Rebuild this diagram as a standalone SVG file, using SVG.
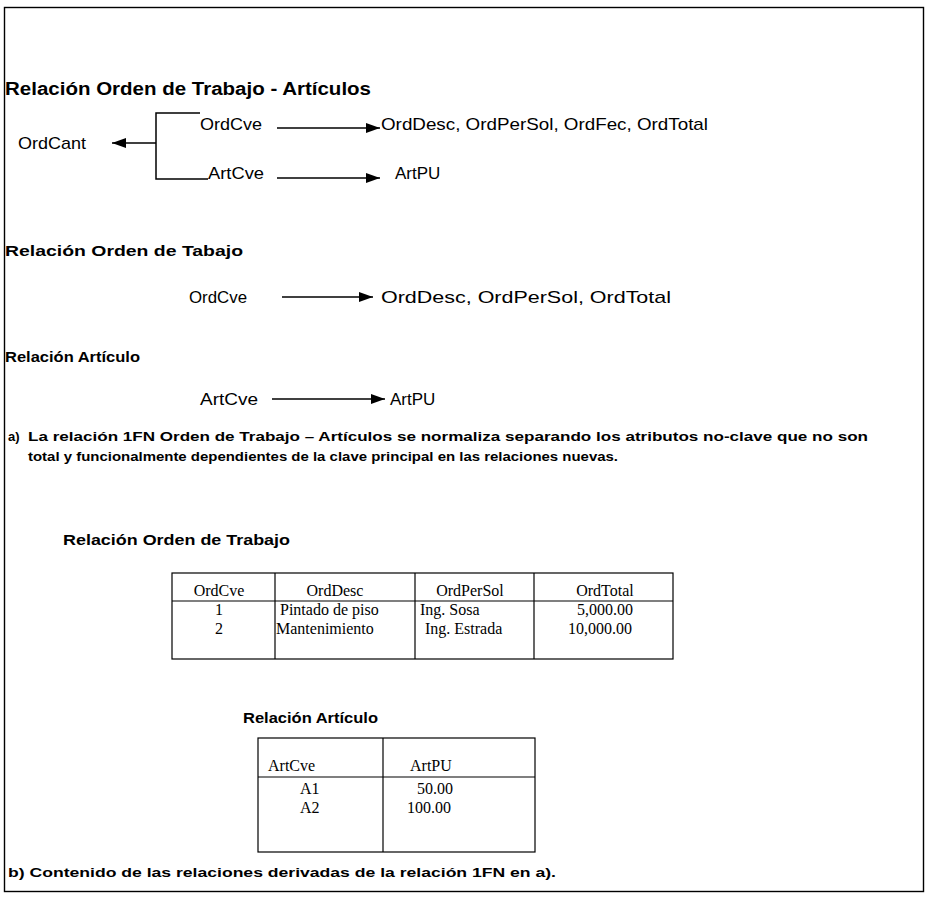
<svg xmlns="http://www.w3.org/2000/svg" width="933" height="899" viewBox="0 0 933 899">
  <style>
    .sans { font-family: "Liberation Sans", Arial, sans-serif; fill: #000; }
    .head { font-family: "Liberation Sans", Arial, sans-serif; font-weight: bold; fill: #000; }
    .serif { font-family: "Liberation Serif", "Times New Roman", serif; font-size: 16px; fill: #000; }
    .dep { font-size: 17px; }
    .note { font-size: 13px; }
    .rule { stroke: #000; stroke-width: 1.4; fill: none; }
    .grid { stroke: #000; stroke-width: 1.2; fill: none; }
    .conn { stroke: #000; stroke-width: 1.5; fill: none; }
  </style>
  <defs>
    <marker id="arrow" viewBox="0 0 14 10" refX="14" refY="5" markerWidth="14" markerHeight="10" markerUnits="userSpaceOnUse" orient="auto">
      <path d="M0,0 L14,5 L0,10 z" fill="#000"/>
    </marker>
  </defs>

  <rect width="933" height="899" fill="#fff"/>

  <!-- page frame -->
  <rect class="rule" x="4.5" y="7.5" width="919" height="884" stroke-width="1.8"/>

  <!-- 1FN relation: composite key dependencies -->
  <g id="title-1fn">
    <text class="head" x="5" y="95" font-size="18" textLength="366" lengthAdjust="spacingAndGlyphs">Relación Orden de Trabajo - Artículos</text>
  </g>
  <g id="node-ordcant">
    <text class="sans dep" x="18" y="149" textLength="68" lengthAdjust="spacingAndGlyphs">OrdCant</text>
  </g>
  <g id="node-ordcve-1">
    <text class="sans dep" x="200" y="130" textLength="62" lengthAdjust="spacingAndGlyphs">OrdCve</text>
  </g>
  <g id="node-artcve-1">
    <text class="sans dep" x="208" y="179" textLength="56" lengthAdjust="spacingAndGlyphs">ArtCve</text>
  </g>
  <g id="node-orddesc-1">
    <text class="sans dep" x="381" y="130" textLength="327" lengthAdjust="spacingAndGlyphs">OrdDesc, OrdPerSol, OrdFec, OrdTotal</text>
  </g>
  <g id="node-artpu-1">
    <text class="sans dep" x="395" y="179">ArtPU</text>
  </g>

  <!-- Orden de Trabajo relation -->
  <g id="title-orden">
    <text class="head" x="5" y="256" font-size="15.5" textLength="238" lengthAdjust="spacingAndGlyphs">Relación Orden de Tabajo</text>
  </g>
  <g id="node-ordcve-2">
    <text class="sans dep" x="189" y="303" textLength="58" lengthAdjust="spacingAndGlyphs">OrdCve</text>
  </g>
  <g id="node-orddesc-2">
    <text class="sans dep" x="381" y="303" textLength="290" lengthAdjust="spacingAndGlyphs">OrdDesc, OrdPerSol, OrdTotal</text>
  </g>

  <!-- Articulo relation -->
  <g id="title-articulo">
    <text class="head" x="5" y="362" font-size="14.5" textLength="135" lengthAdjust="spacingAndGlyphs">Relación Artículo</text>
  </g>
  <g id="node-artcve-2">
    <text class="sans dep" x="200" y="405" textLength="58" lengthAdjust="spacingAndGlyphs">ArtCve</text>
  </g>
  <g id="node-artpu-2">
    <text class="sans dep" x="390" y="405">ArtPU</text>
  </g>

  <!-- note a) -->
  <g id="note-a">
    <text class="head note" x="8" y="441">a)</text>
    <text class="head note" x="28" y="441" textLength="840" lengthAdjust="spacingAndGlyphs">La relación 1FN Orden de Trabajo – Artículos se normaliza separando los atributos no-clave que no son</text>
    <text class="head note" x="28" y="461" textLength="590" lengthAdjust="spacingAndGlyphs">total y funcionalmente dependientes de la clave principal en las relaciones nuevas.</text>
  </g>

  <!-- connectors -->
  <g id="connectors">
    <!-- bracket joining the composite key -->
    <polyline class="conn" points="200,113 156,113 156,179 208,179"/>
    <line class="conn" x1="156" y1="143" x2="112" y2="143" marker-end="url(#arrow)"/>
    <line class="conn" x1="277" y1="128" x2="380" y2="128" marker-end="url(#arrow)"/>
    <line class="conn" x1="277" y1="178" x2="380" y2="178" marker-end="url(#arrow)"/>
    <line class="conn" x1="282" y1="297" x2="373" y2="297" stroke-width="1.2" marker-end="url(#arrow)"/>
    <line class="conn" x1="272" y1="399" x2="385" y2="399" stroke-width="1.2" marker-end="url(#arrow)"/>
  </g>

  <!-- table: Relacion Orden de Trabajo -->
  <g id="table-orden">
    <text class="head" x="63" y="545" font-size="15" textLength="227" lengthAdjust="spacingAndGlyphs">Relación Orden de Trabajo</text>
    <rect class="grid" x="172" y="573" width="501" height="86"/>
    <line class="grid" x1="172" y1="601" x2="673" y2="601"/>
    <line class="grid" x1="275" y1="573" x2="275" y2="659"/>
    <line class="grid" x1="415" y1="573" x2="415" y2="659"/>
    <line class="grid" x1="534" y1="573" x2="534" y2="659"/>
    <text class="serif" x="219" y="596" text-anchor="middle">OrdCve</text>
    <text class="serif" x="335" y="596" text-anchor="middle">OrdDesc</text>
    <text class="serif" x="470" y="596" text-anchor="middle">OrdPerSol</text>
    <text class="serif" x="605" y="596" text-anchor="middle">OrdTotal</text>
    <text class="serif" x="219" y="615" text-anchor="middle">1</text>
    <text class="serif" x="280" y="615">Pintado de piso</text>
    <text class="serif" x="420" y="615">Ing. Sosa</text>
    <text class="serif" x="605" y="615" text-anchor="middle">5,000.00</text>
    <text class="serif" x="219" y="634" text-anchor="middle">2</text>
    <text class="serif" x="276" y="634">Mantenimiento</text>
    <text class="serif" x="425" y="634">Ing. Estrada</text>
    <text class="serif" x="600" y="634" text-anchor="middle">10,000.00</text>
  </g>

  <!-- table: Relacion Articulo -->
  <g id="table-articulo">
    <text class="head" x="243" y="723" font-size="15" textLength="135" lengthAdjust="spacingAndGlyphs">Relación Artículo</text>
    <rect class="grid" x="258" y="738" width="277" height="114"/>
    <line class="grid" x1="258" y1="777" x2="535" y2="777"/>
    <line class="grid" x1="383" y1="738" x2="383" y2="852"/>
    <text class="serif" x="268" y="771">ArtCve</text>
    <text class="serif" x="410" y="771">ArtPU</text>
    <text class="serif" x="300" y="794">A1</text>
    <text class="serif" x="417" y="794">50.00</text>
    <text class="serif" x="300" y="813">A2</text>
    <text class="serif" x="407" y="813">100.00</text>
  </g>

  <!-- note b) -->
  <g id="note-b">
    <text class="head note" x="8" y="877" textLength="548" lengthAdjust="spacingAndGlyphs">b) Contenido de las relaciones derivadas de la relación 1FN en a).</text>
  </g>
</svg>
